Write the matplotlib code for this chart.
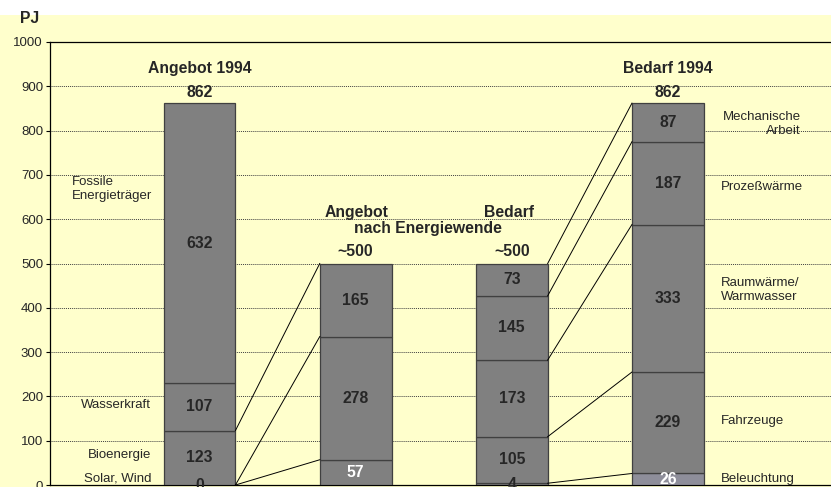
"""
Energieangebot und -bedarf 1994 vs. nach Energiewende (PJ), stacked bars.
"""

import matplotlib
matplotlib.use('Agg')
import matplotlib.pyplot as plt
from matplotlib.patches import Rectangle
import numpy as np

plt.rcParams['font.family'] = ['Liberation Sans', 'DejaVu Sans']

# data (PJ)
angebot_1994 = [0, 123, 107, 632]
angebot_wende = [57, 278, 165]
bedarf_wende = [4, 105, 173, 145, 73]
bedarf_1994 = [26, 229, 333, 187, 87]
total_labels = ['862', '~500', '~500', '862']
supply_labels = ['Solar, Wind', 'Bioenergie', 'Wasserkraft', 'Fossile\nEnergieträger']
demand_labels = ['Beleuchtung', 'Fahrzeuge', 'Raumwärme/\nWarmwasser', 'Prozeßwärme',
                 'Mechanische\nArbeit']
y_ticks = [0, 100, 200, 300, 400, 500, 600, 700, 800, 900, 1000]

BG = '#ffffcc'
BAR = '#808080'
LIGHT = '#8e8e9a'
WIDTH = 0.46
TXT = '#262626'
BOLD = 11.3
NORM = 9.5

fig = plt.figure(figsize=(8.31, 4.87), dpi=100)
fig.patches.append(Rectangle((0, 0), 1, (487 - 15) / 487, transform=fig.transFigure,
                             facecolor=BG, edgecolor='none', zorder=-10))
ax = fig.add_axes([50 / 831, 2 / 487, 781 / 831, 443 / 487])
ax.set_facecolor(BG)

stacks = [angebot_1994, angebot_wende, bedarf_wende, bedarf_1994]
cums = []
for pos, values in enumerate(stacks):
    bottoms = np.concatenate([[0], np.cumsum(values)[:-1]])
    cums.append(np.cumsum(values))
    for i, (v, b) in enumerate(zip(values, bottoms)):
        light = (pos == 3 and i == 0)
        ax.bar(pos, v, bottom=b, width=WIDTH, color=LIGHT if light else BAR,
               edgecolor='#404040', linewidth=0.9, zorder=3)
        white = (pos in (1, 3) and i == 0)
        ax.text(pos, b + v / 2, str(v), ha='center', va='center', fontsize=BOLD,
                fontweight='bold', color='white' if white else TXT,
                zorder=5, clip_on=False)

# connecting lines
half = WIDTH / 2
for y0, y1 in zip(np.concatenate([[0], cums[0][:-1]]), cums[1]):
    ax.plot([0 + half, 1 - half], [y0, y1], color='black', lw=0.7, zorder=4)
for y0, y1 in zip(cums[2], cums[3]):
    ax.plot([2 + half, 3 - half], [y0, y1], color='black', lw=0.7, zorder=4)

# totals and titles
for pos, lab, y in zip(range(4), total_labels, [887, 526, 526, 887]):
    ax.text(pos, y, lab, ha='center', va='center', fontsize=BOLD, fontweight='bold',
            color=TXT)
ax.text(0, 941, 'Angebot 1994', ha='center', va='center', fontsize=BOLD,
        fontweight='bold', color=TXT)
ax.text(3, 941, 'Bedarf 1994', ha='center', va='center', fontsize=BOLD,
        fontweight='bold', color=TXT)
ax.text(1.005, 616, 'Angebot', ha='center', va='center', fontsize=BOLD,
        fontweight='bold', color=TXT)
ax.text(1.98, 616, 'Bedarf', ha='center', va='center', fontsize=BOLD,
        fontweight='bold', color=TXT)
ax.text(1.46, 580, 'nach Energiewende', ha='center', va='center', fontsize=BOLD,
        fontweight='bold', color=TXT)

# category labels
for lab, y in zip(supply_labels[:3], [14, 68, 180]):
    ax.text(-0.311, y, lab, ha='right', va='center', fontsize=NORM, color=TXT)
ax.text(-0.817, 668, supply_labels[3], ha='left', va='center', fontsize=NORM,
        color=TXT, linespacing=1.2)
for lab, y in zip(demand_labels[:4], [14, 145, 440, 672]):
    ax.text(3.34, y, lab, ha='left', va='center', fontsize=NORM, color=TXT,
            linespacing=1.15)
ax.text(3.853, 815, demand_labels[4], ha='right', va='center', fontsize=NORM,
        color=TXT, linespacing=1.15)

ax.text(-1.087, 1052, 'PJ', ha='center', va='center', fontsize=BOLD, fontweight='bold',
        color=TXT, clip_on=False)

ax.set_xlim(-0.958, 4.045)
ax.set_ylim(0, 1000)
ax.set_yticks(y_ticks)
ax.set_yticklabels([str(t) for t in y_ticks], fontsize=9.5, color=TXT)
ax.set_xticks([])
ax.tick_params(axis='y', length=3, width=0.8, pad=2)
ax.grid(axis='y', color='#404040', linestyle=(0, (1, 1)), linewidth=0.7, zorder=1)
ax.spines['right'].set_visible(False)
for s in ('left', 'top', 'bottom'):
    ax.spines[s].set_linewidth(0.9)
    ax.spines[s].set_color('black')

fig.savefig('out.png', dpi=100)
